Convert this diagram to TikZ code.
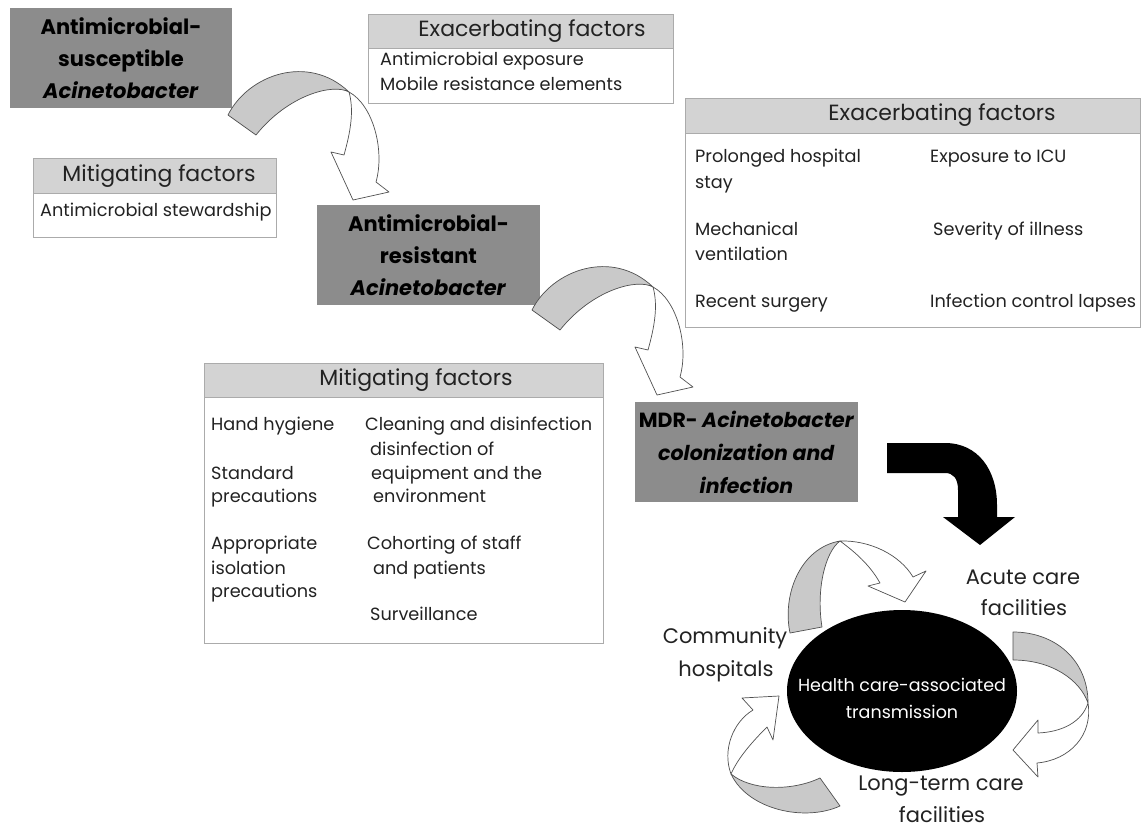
\documentclass[tikz,border=0pt]{standalone}
\usepackage{fontspec}
\setmainfont{Poppins}
\usetikzlibrary{shapes.geometric}
\definecolor{boxdark}{HTML}{8C8C8C}
\definecolor{headgray}{HTML}{D3D3D3}
\definecolor{arrgray}{HTML}{C9C9C9}
\definecolor{edgegray}{HTML}{ABABAB}
\definecolor{txt}{HTML}{222222}
\definecolor{outl}{HTML}{505050}
\tikzset{
  titlebox/.style={fill=boxdark, inner sep=0pt, align=center, text=black,
    font=\bfseries\fontsize{21}{32}\selectfont},
  headbox/.style={fill=headgray, draw=edgegray, line width=0.8pt, inner sep=0pt},
  bodybox/.style={fill=white, draw=edgegray, line width=0.8pt, inner sep=0pt},
  headtxt/.style={inner sep=0pt, text=txt, font=\fontsize{22}{24}\selectfont},
  bodytxt/.style={inner sep=0pt, anchor=west, text=txt, text height=0.72em, text depth=0.2em,
    font=\fontsize{17.7}{20}\selectfont},
  lbltxt/.style={inner sep=0pt, text=txt, font=\fontsize{21}{24}\selectfont},
  ribgray/.style={fill=arrgray, draw=outl, line width=0.7pt, line join=round},
  ribwhite/.style={fill=white, draw=outl, line width=0.7pt, line join=round},
  pics/twistarrow/.style={code={
    \path[ribgray] (0,0) .. controls (20,-40) and (80,-62) .. (121,-23)
       .. controls (105,-32) and (60,-20) .. (28,20) -- cycle;
    \path[ribwhite] (121,-23) .. controls (145,-10) and (157,35) .. (148,67)
       -- (161,77) -- (125,85) -- (103,37) -- (116,40)
       .. controls (123,15) and (126,-5) .. (121,-23) -- cycle;
  }}
}
\begin{document}
\begin{tikzpicture}[x=1pt,y=-1pt]
\useasboundingbox[fill=white] (0,0) rectangle (1141,830);

% ---------- top-left title ----------
\node[titlebox, minimum width=222pt, minimum height=100pt] (sus) at (121,58)
  {Antimicrobial-\\susceptible\\\textit{Acinetobacter}};

% ---------- exacerbating factors (top) ----------
\node[bodybox, minimum width=305pt, minimum height=55pt] (exAb) at (520.5,75.5) {};
\node[headbox, minimum width=305pt, minimum height=34pt] (exAh) at (520.5,31) {};
\node[headtxt] (exAt) at (532,31) {Exacerbating factors};
\node[bodytxt] (exA1) at (380,63) {Antimicrobial exposure};
\node[bodytxt] (exA2) at (380,88) {Mobile resistance elements};

% ---------- mitigating factors (top-left) ----------
\node[bodybox, minimum width=243pt, minimum height=44pt] (miAb) at (154.5,215) {};
\node[headbox, minimum width=243pt, minimum height=35pt] (miAh) at (154.5,175.5) {};
\node[headtxt] (miAt) at (159,176) {Mitigating factors};
\node[bodytxt] (miA1) at (40,214) {Antimicrobial stewardship};

% ---------- resistant title ----------
\node[titlebox, minimum width=223pt, minimum height=100pt] (res) at (428.5,255)
  {Antimicrobial-\\resistant\\\textit{Acinetobacter}};

% ---------- exacerbating factors (right) ----------
\node[bodybox, minimum width=455pt, minimum height=194pt] (exBb) at (912.5,230) {};
\node[headbox, minimum width=455pt, minimum height=35pt] (exBh) at (912.5,115.5) {};
\node[headtxt] (exBt) at (942,115) {Exacerbating factors};
\node[bodytxt] (exB1) at (695,160) {Prolonged hospital};
\node[bodytxt] (exB2) at (695,186) {stay};
\node[bodytxt] (exB3) at (695,233) {Mechanical};
\node[bodytxt] (exB4) at (695,258) {ventilation};
\node[bodytxt] (exB5) at (695,305) {Recent surgery};
\node[bodytxt] (exB6) at (930,160) {Exposure to ICU};
\node[bodytxt] (exB7) at (933,233) {Severity of illness};
\node[bodytxt] (exB8) at (930,305) {Infection control lapses};

% ---------- mitigating factors (middle) ----------
\node[bodybox, minimum width=399pt, minimum height=246pt] (miBb) at (403.5,520) {};
\node[headbox, minimum width=399pt, minimum height=34pt] (miBh) at (403.5,380) {};
\node[headtxt] (miBt) at (416,380) {Mitigating factors};
\node[bodytxt] (miB1) at (211,428) {Hand hygiene};
\node[bodytxt] (miB2) at (211,477) {Standard};
\node[bodytxt] (miB3) at (211,500) {precautions};
\node[bodytxt] (miB4) at (211,547) {Appropriate};
\node[bodytxt] (miB5) at (211,572) {isolation};
\node[bodytxt] (miB6) at (211,595) {precautions};
\node[bodytxt] (miB7) at (365,428) {Cleaning and disinfection};
\node[bodytxt] (miB8) at (370,453) {disinfection of};
\node[bodytxt] (miB9) at (371,477) {equipment and the};
\node[bodytxt] (miB10) at (373,500) {environment};
\node[bodytxt] (miB11) at (367,547) {Cohorting of staff};
\node[bodytxt] (miB12) at (373,572) {and patients};
\node[bodytxt] (miB13) at (370,618) {Surveillance};

% ---------- MDR title ----------
\node[titlebox, font=\bfseries\fontsize{20.5}{33}\selectfont, minimum width=223pt, minimum height=100pt] (mdr) at (746.5,452)
  {MDR- \textit{Acinetobacter}\\\textit{colonization and}\\\textit{infection}};

% ---------- twisted arrows ----------
\pic (tw1) at (228,115) {twistarrow};
\pic (tw2) at (532,310) {twistarrow};

% ---------- black arrow ----------
\fill[black] (887,443) -- (945,443) .. controls (978,443) and (997,470) .. (997,505)
  -- (997,517) -- (1015,517) -- (980,545) -- (943,517) -- (958,517) -- (958,490)
  .. controls (958,478) and (953,473) .. (945,473) -- (887,473) -- cycle;

% ---------- ellipse ----------
\node[ellipse, fill=black, minimum width=230pt, minimum height=162pt, inner sep=0pt] (hca) at (902,691) {};
\node[inner sep=0pt, text=white, align=center, font=\fontsize{17.5}{27}\selectfont] (hcat) at (902,698)
  {Health care-associated\\transmission};

% ---------- cycle arrows ----------
\path[ribgray] (790,633) .. controls (782,595) and (800,548) .. (840,541)
   .. controls (825,552) and (816,590) .. (822,627) -- cycle;
\path[ribwhite] (840,541) .. controls (870,540) and (900,555) .. (913,577)
   -- (926,571) -- (905,602) -- (868,586) -- (880,583)
   .. controls (870,565) and (855,552) .. (840,541) -- cycle;

\path[ribgray] (1013,632) .. controls (1055,632) and (1088,660) .. (1088,703)
   .. controls (1080,680) and (1052,660) .. (1013,660) -- cycle;
\path[ribwhite] (1088,703) .. controls (1093,735) and (1070,760) .. (1037,763)
   -- (1038,777) -- (1013,750) -- (1038,720) -- (1038,733)
   .. controls (1062,732) and (1082,722) .. (1088,703) -- cycle;

\path[ribgray] (840,806) .. controls (805,822) and (748,810) .. (731,774)
   .. controls (750,790) and (790,792) .. (820,778) -- cycle;
\path[ribwhite] (731,774) .. controls (722,750) and (733,722) .. (753,710)
   -- (742,698) -- (779,696) -- (773,740) -- (767,727)
   .. controls (752,742) and (738,758) .. (731,774) -- cycle;

% ---------- cycle labels ----------
\node[lbltxt] (acu1) at (1023,577) {Acute care};
\node[lbltxt] (acu2) at (1024,608) {facilities};
\node[lbltxt] (com1) at (725,638) {Community};
\node[lbltxt] (com2) at (726,671) {hospitals};
\node[lbltxt] (ltc1) at (941,786) {Long-term care};
\node[lbltxt] (ltc2) at (942,815) {facilities};
\end{tikzpicture}
\end{document}
